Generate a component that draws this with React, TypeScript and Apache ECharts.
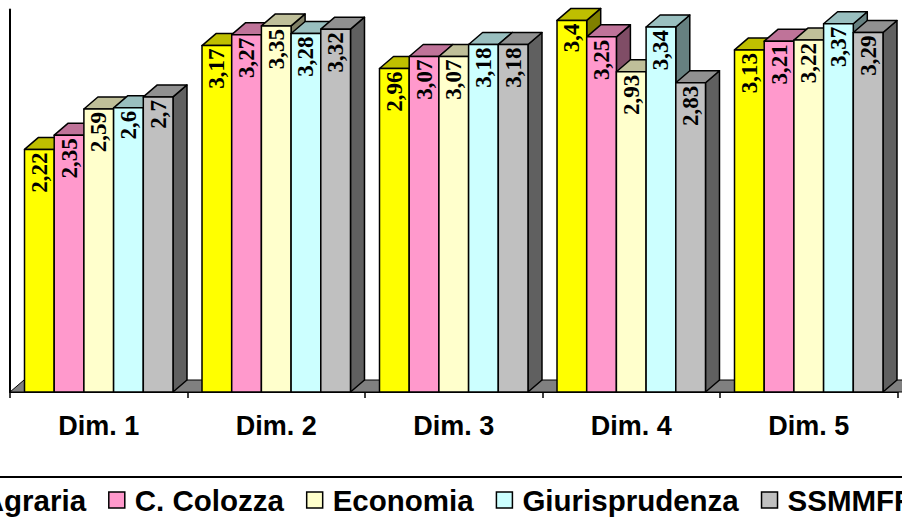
import React, { useEffect, useRef } from "react";
import * as echarts from "echarts";

const categories = ["Dim. 1", "Dim. 2", "Dim. 3", "Dim. 4", "Dim. 5"];
const seriesNames = ["Agraria", "C. Colozza", "Economia", "Giurisprudenza", "SSMMFF"];
const agraria = [2.22, 3.17, 2.96, 3.4, 3.13];
const colozza = [2.35, 3.27, 3.07, 3.25, 3.21];
const economia = [2.59, 3.35, 3.07, 2.93, 3.22];
const giurisprudenza = [2.6, 3.28, 3.18, 3.34, 3.37];
const ssmmff = [2.7, 3.32, 3.18, 2.83, 3.29];
const seriesValues = [agraria, colozza, economia, giurisprudenza, ssmmff];
const frontColors = ["#FFFF00", "#FF99CC", "#FFFFCC", "#CCFFFF", "#C0C0C0"];

const DX = 14;
const DY = 12;
const BAR_FRAC = 0.1673;
const SANS = '"Liberation Sans", Arial, sans-serif';
const SERIF = '"Liberation Serif", "Times New Roman", serif';

function shade(hex: string, f: number): string {
  const n = parseInt(hex.slice(1), 16);
  const r = Math.round(((n >> 16) & 255) * f);
  const g = Math.round(((n >> 8) & 255) * f);
  const b = Math.round((n & 255) * f);
  return "rgb(" + r + "," + g + "," + b + ")";
}

function fmt(v: number): string {
  return String(v).replace(".", ",");
}

export default function App() {
  const ref = useRef<HTMLDivElement>(null);
  useEffect(() => {
    if (!ref.current) return;
    const chart = echarts.init(ref.current, null, { renderer: "svg" });

    const floorSeries: any = {
      type: "custom",
      name: "floor",
      silent: true,
      clip: false,
      z: 1,
      data: [[0, 0]],
      renderItem: (params: any) => {
        const cs = params.coordSys;
        const left = cs.x;
        const right = cs.x + cs.width;
        const bottom = cs.y + cs.height;
        return {
          type: "polygon",
          shape: {
            points: [
              [left, bottom],
              [right + DX, bottom],
              [right + DX, bottom - DY],
              [left + DX, bottom - DY],
            ],
          },
          style: { fill: "#808080", stroke: "#000", lineWidth: 1 },
        };
      },
    };

    const barSeries = seriesNames.map((name, j) => ({
      type: "custom",
      name,
      clip: false,
      z: 2,
      itemStyle: { color: frontColors[j] },
      data: seriesValues[j].map((v, i) => [i, v]),
      renderItem: (params: any, api: any) => {
        const i = api.value(0);
        const v = api.value(1);
        const top = api.coord([i, v]);
        const base = api.coord([i, 0]);
        const catW = api.size([1, 0])[0];
        const bw = catW * BAR_FRAC;
        const x0 = base[0] - 2.5 * bw + j * bw;
        const x1 = x0 + bw;
        const yt = top[1];
        const yb = base[1];
        const c = frontColors[j];
        const line = { stroke: "#000", lineWidth: 1.5, lineJoin: "round" };
        return {
          type: "group",
          children: [
            {
              type: "polygon",
              shape: { points: [[x1, yb], [x1 + DX, yb - DY], [x1 + DX, yt - DY], [x1, yt]] },
              style: { fill: shade(c, 0.5), ...line },
            },
            {
              type: "polygon",
              shape: { points: [[x0, yt], [x1, yt], [x1 + DX, yt - DY], [x0 + DX, yt - DY]] },
              style: { fill: shade(c, 0.75), ...line },
            },
            {
              type: "rect",
              shape: { x: x0, y: yt, width: bw, height: yb - yt },
              style: { fill: c, ...line },
            },
            {
              type: "text",
              x: (x0 + x1) / 2,
              y: yt + 3,
              rotation: Math.PI / 2,
              style: {
                text: fmt(v),
                font: "bold 23px " + SERIF,
                fill: "#000",
                align: "right",
                verticalAlign: "middle",
              },
            },
          ],
        };
      },
    }));

    const option: any = {
      animation: false,
      backgroundColor: "#fff",
      grid: { left: 10, right: 4.5, top: 9.5, bottom: 128, containLabel: false },
      xAxis: {
        type: "category",
        data: categories,
        axisLine: { show: true, lineStyle: { color: "#000", width: 2 } },
        axisTick: { show: true, length: 6, lineStyle: { color: "#000", width: 1.5 } },
        axisLabel: {
          margin: 20,
          fontFamily: SANS,
          fontWeight: "bold",
          fontSize: 27,
          color: "#000",
        },
        splitLine: { show: false },
      },
      yAxis: {
        type: "value",
        min: 0,
        max: 3.5,
        interval: 0.5,
        axisLine: { show: true, lineStyle: { color: "#000", width: 2 } },
        axisTick: { show: false },
        axisLabel: { show: false },
        splitLine: { show: false },
      },
      legend: {
        data: seriesNames,
        left: -44,
        top: 485,
        width: 1100,
        orient: "horizontal",
        padding: 0,
        itemWidth: 16,
        itemHeight: 16,
        itemGap: 22,
        icon: "rect",
        itemStyle: { borderColor: "#000", borderWidth: 1.5 },
        textStyle: {
          fontFamily: SANS,
          fontWeight: "bold",
          fontSize: 29.5,
          color: "#000",
          padding: [0, 0, 0, 5],
        },
      },
      graphic: [
        {
          type: "rect",
          silent: true,
          shape: { x: -10, y: 477, width: 922, height: 100 },
          style: { fill: "none", stroke: "#000", lineWidth: 2 },
        },
      ],
      series: [floorSeries, ...barSeries],
    };
    chart.setOption(option);
    return () => chart.dispose();
  }, []);
  return (
    <div
      ref={ref}
      style={{ position: "fixed", left: 0, top: 0, width: 902, height: 520, background: "#fff" }}
    />
  );
}
